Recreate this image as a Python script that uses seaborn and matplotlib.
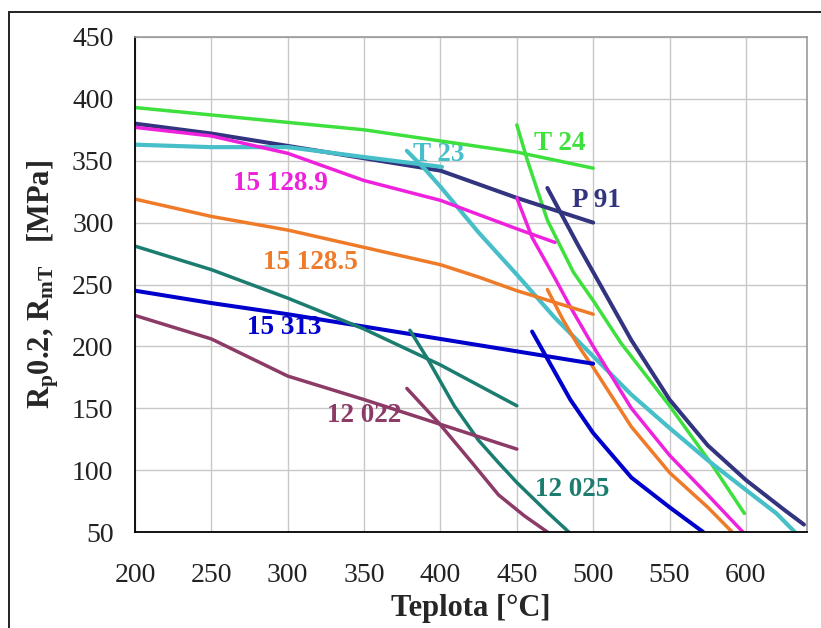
import matplotlib
matplotlib.use("Agg")
import matplotlib.pyplot as plt
import pandas as pd
import seaborn as sns
from matplotlib.patches import Rectangle

# Rp0.2 = mez kluzu (plochá křivka), RmT = mez pevnosti při tečení (strmá křivka)
t24_rp_t = [200, 250, 300, 350, 400, 450, 500]
t24_rp_v = [393, 387, 381, 375, 366, 357, 344]
t24_rm_t = [450, 457, 470, 487, 500, 518, 550, 578, 599]
t24_rm_v = [379, 350, 302, 260, 237, 203, 152, 104, 65]

p91_rp_t = [200, 250, 300, 350, 400, 450, 500]
p91_rp_v = [380, 372, 362, 352, 342, 320, 300]
p91_rm_t = [470, 480, 490, 500, 510, 525, 550, 575, 600, 625, 638]
p91_rm_v = [328, 305, 282, 260, 238, 205, 157, 120, 92, 68, 56]

t23_rp_t = [200, 250, 300, 350, 401]
t23_rp_v = [363, 361, 361, 353, 345]
t23_rm_t = [378, 390, 400, 425, 450, 475, 500, 525, 550, 575, 600, 620, 632]
t23_rm_v = [358, 343, 329, 292, 258, 223, 192, 161, 134, 108, 84, 65, 50]

m1289_rp_t = [200, 250, 300, 350, 400, 450, 475]
m1289_rp_v = [377, 370, 356, 334, 318, 295, 284]
m1289_rm_t = [450, 460, 475, 485, 500, 525, 550, 575, 598]
m1289_rm_v = [320, 288, 255, 232, 200, 150, 112, 80, 50]

m1285_rp_t = [200, 250, 300, 350, 400, 425, 450, 500]
m1285_rp_v = [319, 305, 294, 280, 266, 256, 245, 226]
m1285_rm_t = [470, 480, 490, 500, 525, 550, 575, 591]
m1285_rm_v = [246, 222, 201, 183, 135, 98, 70, 50]

m15313_rp_t = [200, 250, 300, 350, 400, 450, 500]
m15313_rp_v = [245, 235, 226, 216, 206, 196, 186]
m15313_rm_t = [460, 475, 485, 500, 525, 550, 572]
m15313_rm_v = [212, 179, 157, 130, 94, 70, 50]

m12025_rp_t = [200, 250, 300, 350, 400, 450]
m12025_rp_v = [281, 262, 239, 214, 185, 152]
m12025_rm_t = [380, 392, 409, 425, 438, 450, 470, 484]
m12025_rm_v = [213, 189, 152, 124, 106, 90, 66, 50]

m12022_rp_t = [200, 250, 300, 350, 400, 450]
m12022_rp_v = [225, 206, 176, 157, 137, 117]
m12022_rm_t = [378, 399, 420, 438, 455, 470]
m12022_rm_v = [166, 138, 107, 80, 63, 50]

steels = ["T 24", "P 91", "T 23", "15 128.9", "15 128.5", "15 313", "12 025", "12 022"]
colors = ["#3de03d", "#33347f", "#46bfc9", "#ee22dd", "#ef7a28", "#0000cc", "#1b7d70", "#8c3a66"]
label_t = [478, 502, 399, 295, 315, 298, 486, 350]
label_v = [364, 318, 355, 332, 268, 215, 84, 144]

curves = {
    "T 24": (t24_rp_t, t24_rp_v, t24_rm_t, t24_rm_v),
    "P 91": (p91_rp_t, p91_rp_v, p91_rm_t, p91_rm_v),
    "T 23": (t23_rp_t, t23_rp_v, t23_rm_t, t23_rm_v),
    "15 128.9": (m1289_rp_t, m1289_rp_v, m1289_rm_t, m1289_rm_v),
    "15 128.5": (m1285_rp_t, m1285_rp_v, m1285_rm_t, m1285_rm_v),
    "15 313": (m15313_rp_t, m15313_rp_v, m15313_rm_t, m15313_rm_v),
    "12 025": (m12025_rp_t, m12025_rp_v, m12025_rm_t, m12025_rm_v),
    "12 022": (m12022_rp_t, m12022_rp_v, m12022_rm_t, m12022_rm_v),
}
thick = {"P 91": 2.9, "15 313": 2.9, "T 23": 3.0}


def build_frame() -> pd.DataFrame:
    rows = []
    for steel, (rp_t, rp_v, rm_t, rm_v) in curves.items():
        for t, v in zip(rp_t, rp_v):
            rows.append({"steel": steel, "curve": "Rp", "teplota": t, "pevnost": v})
        for t, v in zip(rm_t, rm_v):
            rows.append({"steel": steel, "curve": "RmT", "teplota": t, "pevnost": v})
    return pd.DataFrame(rows)


def main() -> None:
    sns.set_style("whitegrid")
    plt.rcParams["font.family"] = ["Liberation Serif", "DejaVu Serif"]
    plt.rcParams["mathtext.fontset"] = "custom"
    plt.rcParams["mathtext.rm"] = "Liberation Serif:bold"
    plt.rcParams["mathtext.it"] = "Liberation Serif:bold"
    plt.rcParams["mathtext.bf"] = "Liberation Serif:bold"

    df = build_frame()
    palette = dict(zip(steels, colors))

    fig = plt.figure(figsize=(8.21, 6.28), dpi=100)
    ax = fig.add_axes([135 / 821, 1 - 532 / 628, 672 / 821, 495 / 628])

    for steel in steels:
        for kind in ["Rp", "RmT"]:
            sub = df[(df["steel"] == steel) & (df["curve"] == kind)]
            sns.lineplot(
                data=sub,
                x="teplota",
                y="pevnost",
                color=palette[steel],
                linewidth=thick.get(steel, 2.5),
                sort=False,
                estimator=None,
                ax=ax,
            )

    for steel, tx, vy in zip(steels, label_t, label_v):
        ax.text(tx, vy, steel, color=palette[steel], fontsize=19.5, fontweight="bold",
                ha="center", va="center", zorder=1 if steel == "T 23" else 5)

    ax.set_xlim(200, 640)
    ax.set_ylim(50, 450)
    ax.set_xticks(range(200, 601, 50))
    ax.set_yticks(range(50, 451, 50))
    ax.grid(True, color="#c8c8c8", linewidth=1.0)
    ax.tick_params(axis="both", direction="inout", length=13, width=1.2, color="black",
                   labelsize=20, labelcolor="#222222")
    ax.tick_params(axis="x", pad=16)
    ax.tick_params(axis="y", pad=9)
    for side in ["left", "bottom"]:
        ax.spines[side].set_color("black")
        ax.spines[side].set_linewidth(1.3)
    for side in ["top", "right"]:
        ax.spines[side].set_color("#999999")
        ax.spines[side].set_linewidth(1.2)

    ax.set_xlabel("Teplota [°C]", fontsize=22, fontweight="bold", labelpad=4)
    ax.set_ylabel(r"R$_\mathrm{p}$0.2, R$_\mathrm{mT}$   [MPa]", fontsize=22,
                  fontweight="bold", labelpad=8)

    fig.patches.append(Rectangle((9 / 821, -0.05), 1.2, 1 - 12 / 628 + 0.05,
                                 transform=fig.transFigure, fill=False,
                                 edgecolor="#222222", linewidth=1.4))

    fig.savefig("out.png", dpi=100)
    plt.close(fig)


if __name__ == "__main__":
    main()
